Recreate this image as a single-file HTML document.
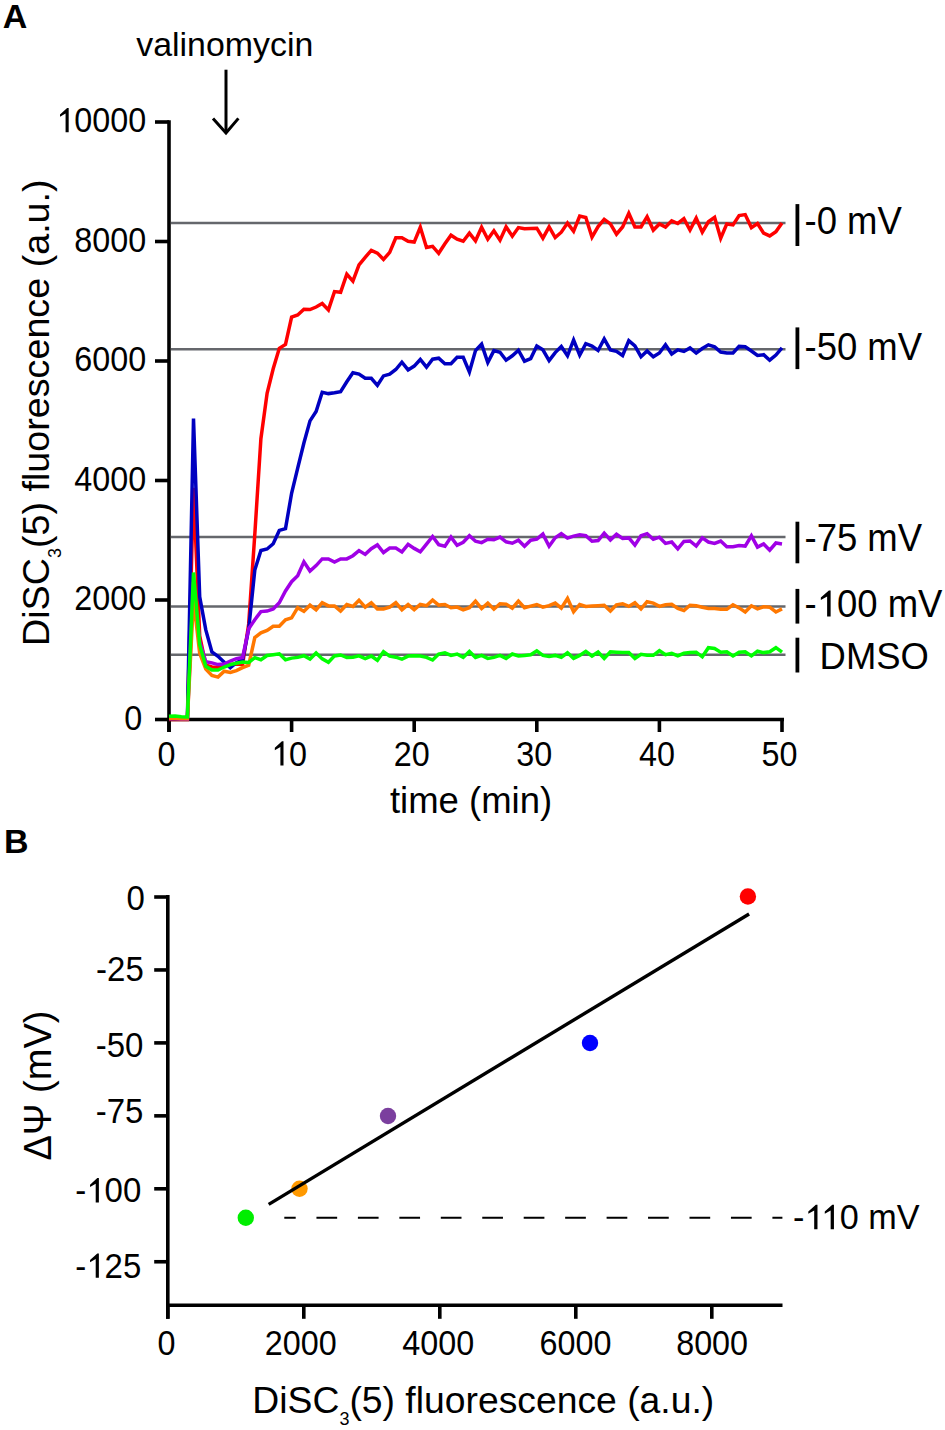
<!DOCTYPE html>
<html><head><meta charset="utf-8"><style>
html,body{margin:0;padding:0;background:#fff;}
svg{display:block;font-family:"Liberation Sans", sans-serif;}
</style></head><body>
<svg width="945" height="1430" viewBox="0 0 945 1430">
<rect width="945" height="1430" fill="#fff"/>
<line x1="169.0" y1="120.2" x2="169.0" y2="732" stroke="#000" stroke-width="3.6"/>
<line x1="167.2" y1="719.5" x2="784" y2="719.5" stroke="#000" stroke-width="3.6"/>
<line x1="155" y1="719.50" x2="169.0" y2="719.50" stroke="#000" stroke-width="3.6"/>
<line x1="155" y1="600.00" x2="169.0" y2="600.00" stroke="#000" stroke-width="3.6"/>
<line x1="155" y1="480.50" x2="169.0" y2="480.50" stroke="#000" stroke-width="3.6"/>
<line x1="155" y1="361.00" x2="169.0" y2="361.00" stroke="#000" stroke-width="3.6"/>
<line x1="155" y1="241.50" x2="169.0" y2="241.50" stroke="#000" stroke-width="3.6"/>
<line x1="155" y1="122.00" x2="169.0" y2="122.00" stroke="#000" stroke-width="3.6"/>
<line x1="169.00" y1="719.5" x2="169.00" y2="732" stroke="#000" stroke-width="3.6"/>
<line x1="291.60" y1="719.5" x2="291.60" y2="732" stroke="#000" stroke-width="3.6"/>
<line x1="414.20" y1="719.5" x2="414.20" y2="732" stroke="#000" stroke-width="3.6"/>
<line x1="536.80" y1="719.5" x2="536.80" y2="732" stroke="#000" stroke-width="3.6"/>
<line x1="659.40" y1="719.5" x2="659.40" y2="732" stroke="#000" stroke-width="3.6"/>
<line x1="782.00" y1="719.5" x2="782.00" y2="732" stroke="#000" stroke-width="3.6"/>
<text transform="translate(142.30,729.80) scale(0.98,1.07)" text-anchor="end" font-size="33" >0</text>
<text transform="translate(146.20,610.30) scale(0.98,1.07)" text-anchor="end" font-size="33" >2000</text>
<text transform="translate(146.20,490.80) scale(0.98,1.07)" text-anchor="end" font-size="33" >4000</text>
<text transform="translate(146.20,371.30) scale(0.98,1.07)" text-anchor="end" font-size="33" >6000</text>
<text transform="translate(146.20,251.80) scale(0.98,1.07)" text-anchor="end" font-size="33" >8000</text>
<g transform="translate(146.20,132.30) scale(0.98,1.07)"><text font-size="33"><tspan x="-73.40">0</tspan><tspan x="-55.05">0</tspan><tspan x="-36.72">0</tspan><tspan x="-18.37">0</tspan></text><polygon points="-82.27,0.00 -79.10,0.00 -79.10,-22.70 -80.69,-22.70 -87.95,-16.57 -87.95,-14.42 -82.27,-17.49" fill="#000"/></g>
<text transform="translate(166.50,765.60) scale(0.98,1.07)" text-anchor="middle" font-size="33" >0</text>
<g transform="translate(289.10,765.60) scale(0.98,1.07)"><text font-size="33"><tspan x="-0.02">0</tspan></text><polygon points="-8.88,0.00 -5.71,0.00 -5.71,-22.70 -7.30,-22.70 -14.56,-16.57 -14.56,-14.42 -8.88,-17.49" fill="#000"/></g>
<text transform="translate(411.70,765.60) scale(0.98,1.07)" text-anchor="middle" font-size="33" >20</text>
<text transform="translate(534.30,765.60) scale(0.98,1.07)" text-anchor="middle" font-size="33" >30</text>
<text transform="translate(656.90,765.60) scale(0.98,1.07)" text-anchor="middle" font-size="33" >40</text>
<text transform="translate(779.50,765.60) scale(0.98,1.07)" text-anchor="middle" font-size="33" >50</text>
<text transform="translate(471.00,813.00) scale(1.0,1.0)" text-anchor="middle" font-size="36.5" >time (min)</text>
<text transform="translate(49.2,412.7) rotate(-90)" text-anchor="middle" font-size="37.7">DiSC<tspan font-size="18" dy="12">3</tspan><tspan dy="-12">(5) fluorescence (a.u.)</tspan></text>
<text transform="translate(2.80,28.20) scale(1,1)" text-anchor="start" font-size="34" font-weight="bold">A</text>
<text transform="translate(224.80,56.40) scale(1.0,1.0)" text-anchor="middle" font-size="33.9" >valinomycin</text>
<line x1="226" y1="69.7" x2="226" y2="133" stroke="#000" stroke-width="3"/>
<polyline points="213,118.4 226,133 238.4,118.4" fill="none" stroke="#000" stroke-width="3"/>
<line x1="171" y1="222.9" x2="785.5" y2="222.9" stroke="#65676c" stroke-width="2.5"/>
<line x1="171" y1="349.2" x2="785.5" y2="349.2" stroke="#65676c" stroke-width="2.5"/>
<line x1="171" y1="537.1" x2="785.5" y2="537.1" stroke="#65676c" stroke-width="2.5"/>
<line x1="171" y1="606.5" x2="785.5" y2="606.5" stroke="#65676c" stroke-width="2.5"/>
<line x1="171" y1="654.7" x2="785.5" y2="654.7" stroke="#65676c" stroke-width="2.5"/>
<line x1="797.4" y1="204.1" x2="797.4" y2="246" stroke="#000" stroke-width="3.8"/>
<line x1="797.4" y1="327.4" x2="797.4" y2="369.1" stroke="#000" stroke-width="3.8"/>
<line x1="797.4" y1="521.7" x2="797.4" y2="563.3" stroke="#000" stroke-width="3.8"/>
<line x1="797.4" y1="588.9" x2="797.4" y2="623.6" stroke="#000" stroke-width="3.8"/>
<line x1="797.4" y1="637.7" x2="797.4" y2="672.5" stroke="#000" stroke-width="3.8"/>
<text transform="translate(804.50,234.00) scale(1.0,1.04)" text-anchor="start" font-size="36.5" >-0 mV</text>
<text transform="translate(804.50,360.20) scale(1.0,1.04)" text-anchor="start" font-size="36.5" >-50 mV</text>
<text transform="translate(804.50,551.00) scale(1.0,1.04)" text-anchor="start" font-size="36.5" >-75 mV</text>
<g transform="translate(804.50,616.50) scale(1.0,1.04)"><text font-size="36.5"><tspan x="0.00">-</tspan><tspan x="32.42">0</tspan><tspan x="52.72">0</tspan><tspan x="83.15">m</tspan><tspan x="113.54">V</tspan></text><polygon points="22.62,0.00 26.12,0.00 26.12,-25.11 24.37,-25.11 16.34,-18.32 16.34,-15.95 22.62,-19.35" fill="#000"/></g>
<text transform="translate(819.60,669.20) scale(1.0,1.03)" text-anchor="start" font-size="36.4" >DMSO</text>
<polyline points="169.0,719.4 175.1,719.4 181.3,719.5 187.4,719.5 193.5,487.7 199.7,635.9 205.8,665.1 211.9,667.0 218.0,667.6 224.2,665.8 230.3,664.6 236.4,664.0 242.6,664.6 248.7,623.9 254.8,534.3 260.9,438.7 267.1,393.3 273.2,368.8 279.3,348.3 285.5,344.4 291.6,317.0 297.7,315.0 303.9,309.2 310.0,309.6 316.1,307.0 322.2,303.5 328.4,309.9 334.5,291.6 340.6,292.3 346.8,274.1 352.9,281.1 359.0,265.0 365.2,257.3 371.3,250.3 377.4,253.1 383.5,259.4 389.7,252.4 395.8,237.8 401.9,237.8 408.1,241.3 414.2,242.1 420.3,227.3 426.5,247.5 432.6,246.3 438.7,253.3 444.9,243.7 451.0,235.2 457.1,239.2 463.2,241.2 469.4,233.2 475.5,240.8 481.6,227.2 487.8,239.2 493.9,230.8 500.0,240.2 506.1,226.8 512.3,236.2 518.4,227.6 524.5,228.8 530.7,228.4 536.8,228.2 542.9,238.2 549.1,226.8 555.2,237.6 561.3,232.2 567.5,223.1 573.6,231.2 579.7,216.1 585.8,217.5 592.0,237.2 598.1,226.6 604.2,219.4 610.4,223.9 616.5,234.2 622.6,227.0 628.8,213.2 634.9,227.0 641.0,227.0 647.1,216.7 653.3,230.1 659.4,223.9 665.5,227.0 671.7,220.8 677.8,223.5 683.9,218.7 690.0,230.1 696.2,218.1 702.3,232.1 708.4,221.8 714.6,217.3 720.7,238.3 726.8,223.9 733.0,224.9 739.1,215.6 745.2,214.6 751.4,227.6 757.5,223.5 763.6,233.2 769.7,235.9 775.9,231.7 782.0,222.9" fill="none" stroke="#ff0000" stroke-width="3.5" stroke-linejoin="miter"/>
<polyline points="169.0,718.8 175.1,718.8 181.3,719.0 187.4,719.0 193.5,418.5 199.7,596.7 205.8,629.9 211.9,652.0 218.0,656.3 224.2,662.3 230.3,667.6 236.4,662.7 242.6,659.8 248.7,629.1 254.8,570.1 260.9,550.5 267.1,549.0 273.2,543.7 279.3,530.4 285.5,528.6 291.6,493.3 297.7,468.1 303.9,443.0 310.0,420.9 316.1,411.5 322.2,392.3 328.4,393.6 334.5,392.7 340.6,391.6 346.8,381.8 352.9,372.7 359.0,374.1 365.2,378.3 371.3,378.3 377.4,385.3 383.5,375.9 389.7,374.1 395.8,369.5 401.9,362.2 408.1,369.9 414.2,366.1 420.3,359.5 426.5,367.2 432.6,359.2 438.7,358.2 444.9,363.8 451.0,363.8 457.1,357.2 463.2,357.2 469.4,371.9 475.5,350.6 481.6,344.1 487.8,362.6 493.9,350.6 500.0,352.2 506.1,360.2 512.3,355.8 518.4,350.2 524.5,361.2 530.7,358.6 536.8,346.1 542.9,349.8 549.1,360.6 555.2,352.6 561.3,346.5 567.5,355.8 573.6,340.1 579.7,355.2 585.8,343.7 592.0,346.1 598.1,350.5 604.2,339.0 610.4,349.9 616.5,351.4 622.6,355.5 628.8,340.6 634.9,345.8 641.0,356.7 647.1,351.0 653.3,356.7 659.4,353.0 665.5,344.8 671.7,354.0 677.8,349.9 683.9,351.4 690.0,347.9 696.2,353.0 702.3,348.5 708.4,344.8 714.6,346.8 720.7,352.0 726.8,353.0 733.0,353.0 739.1,346.4 745.2,346.8 751.4,351.0 757.5,355.5 763.6,354.7 769.7,360.2 775.9,355.1 782.0,347.9" fill="none" stroke="#0000c0" stroke-width="3.5" stroke-linejoin="miter"/>
<polyline points="169.0,718.6 175.1,718.6 181.3,718.9 187.4,718.9 193.5,582.1 199.7,641.8 205.8,661.8 211.9,662.9 218.0,664.6 224.2,664.0 230.3,661.0 236.4,658.7 242.6,657.4 248.7,628.7 254.8,619.7 260.9,611.6 267.1,611.1 273.2,609.0 279.3,602.7 285.5,591.0 291.6,581.7 297.7,575.8 303.9,561.8 310.0,571.0 316.1,565.6 322.2,558.9 328.4,558.9 334.5,562.1 340.6,558.9 346.8,558.9 352.9,555.7 359.0,550.6 365.2,554.4 371.3,548.7 377.4,544.9 383.5,552.5 389.7,548.1 395.8,548.1 401.9,551.9 408.1,544.3 414.2,548.4 420.3,551.8 426.5,544.2 432.6,536.5 438.7,544.6 444.9,546.2 451.0,537.1 457.1,545.2 463.2,542.2 469.4,535.7 475.5,541.2 481.6,542.6 487.8,539.2 493.9,539.8 500.0,537.1 506.1,541.8 512.3,543.2 518.4,540.2 524.5,546.2 530.7,540.2 536.8,539.2 542.9,534.1 549.1,546.2 555.2,537.7 561.3,533.7 567.5,538.1 573.6,536.1 579.7,534.7 585.8,535.7 592.0,541.2 598.1,540.5 604.2,533.1 610.4,539.9 616.5,534.3 622.6,538.5 628.8,537.9 634.9,545.1 641.0,535.8 647.1,533.7 653.3,539.3 659.4,537.2 665.5,543.4 671.7,542.0 677.8,548.8 683.9,541.4 690.0,541.0 696.2,546.1 702.3,537.9 708.4,542.0 714.6,543.4 720.7,541.0 726.8,546.7 733.0,546.7 739.1,545.5 745.2,546.1 751.4,535.8 757.5,547.1 763.6,544.0 769.7,550.2 775.9,543.0 782.0,544.0" fill="none" stroke="#a000e6" stroke-width="3.5" stroke-linejoin="miter"/>
<polyline points="169.0,718.4 175.1,718.4 181.3,718.8 187.4,718.8 193.5,598.8 199.7,653.4 205.8,669.1 211.9,675.4 218.0,677.1 224.2,671.2 230.3,672.4 236.4,670.6 242.6,667.6 248.7,665.2 254.8,637.6 260.9,632.9 267.1,630.4 273.2,626.2 279.3,626.2 285.5,619.8 291.6,617.8 297.7,607.7 303.9,611.4 310.0,605.2 316.1,609.9 322.2,602.7 328.4,605.9 334.5,605.9 340.6,611.0 346.8,604.6 352.9,606.5 359.0,600.2 365.2,607.1 371.3,602.7 377.4,609.0 383.5,609.0 389.7,607.1 395.8,602.7 401.9,609.7 408.1,604.6 414.2,609.7 420.3,604.5 426.5,605.7 432.6,600.1 438.7,605.1 444.9,604.5 451.0,607.7 457.1,607.1 463.2,609.8 469.4,607.7 475.5,601.1 481.6,608.5 487.8,603.1 493.9,609.2 500.0,603.7 506.1,604.1 512.3,608.1 518.4,601.1 524.5,607.7 530.7,606.1 536.8,604.5 542.9,607.1 549.1,605.7 555.2,603.1 561.3,608.1 567.5,598.5 573.6,611.8 579.7,604.5 585.8,606.5 592.0,606.1 598.1,605.7 604.2,605.2 610.4,611.0 616.5,604.8 622.6,603.7 628.8,606.4 634.9,602.7 641.0,608.9 647.1,601.7 653.3,603.1 659.4,606.4 665.5,604.8 671.7,604.3 677.8,608.5 683.9,610.5 690.0,605.2 696.2,605.8 702.3,607.2 708.4,608.5 714.6,608.5 720.7,609.3 726.8,609.3 733.0,604.8 739.1,607.9 745.2,612.0 751.4,605.8 757.5,608.9 763.6,606.8 769.7,607.2 775.9,612.0 782.0,608.9" fill="none" stroke="#ff7800" stroke-width="3.5" stroke-linejoin="miter"/>
<polyline points="169.0,716.3 175.1,715.9 181.3,716.7 187.4,716.9 193.5,572.5 199.7,644.8 205.8,666.3 211.9,669.9 218.0,670.0 224.2,667.0 230.3,664.6 236.4,663.2 242.6,662.0 248.7,662.4 254.8,657.7 260.9,659.7 267.1,655.5 273.2,654.7 279.3,653.8 285.5,659.7 291.6,658.1 297.7,657.4 303.9,655.7 310.0,659.0 316.1,653.0 322.2,658.9 328.4,662.3 334.5,655.9 340.6,655.0 346.8,657.5 352.9,657.2 359.0,655.9 365.2,658.6 371.3,656.1 377.4,660.3 383.5,651.7 389.7,656.1 395.8,657.2 401.9,659.2 408.1,656.1 414.2,655.8 420.3,656.0 426.5,657.4 432.6,660.0 438.7,654.0 444.9,652.8 451.0,655.4 457.1,654.0 463.2,657.4 469.4,651.4 475.5,657.4 481.6,655.4 487.8,658.4 493.9,657.4 500.0,655.4 506.1,658.4 512.3,654.0 518.4,656.0 524.5,655.4 530.7,654.8 536.8,650.8 542.9,655.4 549.1,656.4 555.2,655.4 561.3,657.4 567.5,652.8 573.6,658.4 579.7,655.4 585.8,651.4 592.0,656.0 598.1,652.0 604.2,658.4 610.4,651.8 616.5,652.2 622.6,652.6 628.8,652.6 634.9,658.4 641.0,654.3 647.1,655.3 653.3,655.3 659.4,650.6 665.5,654.7 671.7,653.3 677.8,655.9 683.9,653.3 690.0,652.6 696.2,652.2 702.3,656.8 708.4,647.7 714.6,648.5 720.7,652.2 726.8,651.8 733.0,655.9 739.1,652.2 745.2,651.8 751.4,655.9 757.5,651.2 763.6,652.6 769.7,651.8 775.9,647.7 782.0,652.2" fill="none" stroke="#00ff00" stroke-width="3.5" stroke-linejoin="miter"/>
<text transform="translate(4.00,852.60) scale(1,1)" text-anchor="start" font-size="34" font-weight="bold">B</text>
<line x1="167.8" y1="895" x2="167.8" y2="1318.8" stroke="#000" stroke-width="3.6"/>
<line x1="166.0" y1="1305.2" x2="782.5" y2="1305.2" stroke="#000" stroke-width="3.6"/>
<line x1="154.2" y1="897.00" x2="167.8" y2="897.00" stroke="#000" stroke-width="3.6"/>
<text transform="translate(144.80,910.20) scale(1.0,1.07)" text-anchor="end" font-size="33" >0</text>
<line x1="154.2" y1="969.95" x2="167.8" y2="969.95" stroke="#000" stroke-width="3.6"/>
<text transform="translate(143.80,980.90) scale(1.0,1.07)" text-anchor="end" font-size="33" >-25</text>
<line x1="154.2" y1="1042.90" x2="167.8" y2="1042.90" stroke="#000" stroke-width="3.6"/>
<text transform="translate(143.40,1057.10) scale(1.0,1.07)" text-anchor="end" font-size="33" >-50</text>
<line x1="154.2" y1="1115.85" x2="167.8" y2="1115.85" stroke="#000" stroke-width="3.6"/>
<text transform="translate(143.40,1123.40) scale(1.0,1.07)" text-anchor="end" font-size="33" >-75</text>
<line x1="154.2" y1="1188.80" x2="167.8" y2="1188.80" stroke="#000" stroke-width="3.6"/>
<g transform="translate(141.30,1202.40) scale(1.0,1.07)"><text font-size="33"><tspan x="-66.03">-</tspan><tspan x="-36.71">0</tspan><tspan x="-18.36">0</tspan></text><polygon points="-45.59,0.00 -42.42,0.00 -42.42,-22.70 -44.00,-22.70 -51.26,-16.57 -51.26,-14.42 -45.59,-17.49" fill="#000"/></g>
<line x1="154.2" y1="1261.75" x2="167.8" y2="1261.75" stroke="#000" stroke-width="3.6"/>
<g transform="translate(141.30,1277.80) scale(1.0,1.07)"><text font-size="33"><tspan x="-66.03">-</tspan><tspan x="-36.71">2</tspan><tspan x="-18.36">5</tspan></text><polygon points="-45.59,0.00 -42.42,0.00 -42.42,-22.70 -44.00,-22.70 -51.26,-16.57 -51.26,-14.42 -45.59,-17.49" fill="#000"/></g>
<line x1="167.80" y1="1305.2" x2="167.80" y2="1318.8" stroke="#000" stroke-width="3.6"/>
<text transform="translate(166.40,1354.50) scale(0.98,1.07)" text-anchor="middle" font-size="33" >0</text>
<line x1="303.80" y1="1305.2" x2="303.80" y2="1318.8" stroke="#000" stroke-width="3.6"/>
<text transform="translate(300.80,1354.50) scale(0.98,1.07)" text-anchor="middle" font-size="33" >2000</text>
<line x1="439.80" y1="1305.2" x2="439.80" y2="1318.8" stroke="#000" stroke-width="3.6"/>
<text transform="translate(438.30,1354.50) scale(0.98,1.07)" text-anchor="middle" font-size="33" >4000</text>
<line x1="575.80" y1="1305.2" x2="575.80" y2="1318.8" stroke="#000" stroke-width="3.6"/>
<text transform="translate(575.50,1354.50) scale(0.98,1.07)" text-anchor="middle" font-size="33" >6000</text>
<line x1="711.80" y1="1305.2" x2="711.80" y2="1318.8" stroke="#000" stroke-width="3.6"/>
<text transform="translate(712.10,1354.50) scale(0.98,1.07)" text-anchor="middle" font-size="33" >8000</text>
<text x="483.3" y="1412.5" text-anchor="middle" font-size="37.3">DiSC<tspan font-size="18" dy="12">3</tspan><tspan dy="-12">(5) fluorescence (a.u.)</tspan></text>
<text transform="translate(51,1085.6) rotate(-90)" text-anchor="middle" font-size="38">ΔΨ (mV)</text>
<line x1="284.3" y1="1217.8" x2="782.4" y2="1217.8" stroke="#000" stroke-width="2" stroke-dasharray="20.7 20.75" stroke-dashoffset="9.3"/>
<g transform="translate(793.00,1229.30) scale(1.0,1.04)"><text font-size="34.2"><tspan x="0.00">-</tspan><tspan x="46.87">0</tspan><tspan x="75.37">m</tspan><tspan x="103.84">V</tspan></text><polygon points="21.19,0.00 24.48,0.00 24.48,-23.53 22.84,-23.53 15.31,-17.17 15.31,-14.95 21.19,-18.13" fill="#000"/><polygon points="37.66,0.00 40.94,0.00 40.94,-23.53 39.30,-23.53 31.78,-17.17 31.78,-14.95 37.66,-18.13" fill="#000"/></g>
<circle cx="747.9" cy="896.5" r="8.2" fill="#ff0000"/>
<circle cx="590" cy="1043" r="8.2" fill="#0000ff"/>
<circle cx="388" cy="1116" r="8.2" fill="#7b3f9e"/>
<circle cx="299.5" cy="1188.8" r="8.2" fill="#ff9900"/>
<circle cx="245.8" cy="1217.7" r="8.2" fill="#00ee00"/>
<line x1="268.7" y1="1204.4" x2="749.1" y2="914" stroke="#000" stroke-width="3.4"/>
</svg></body></html>
